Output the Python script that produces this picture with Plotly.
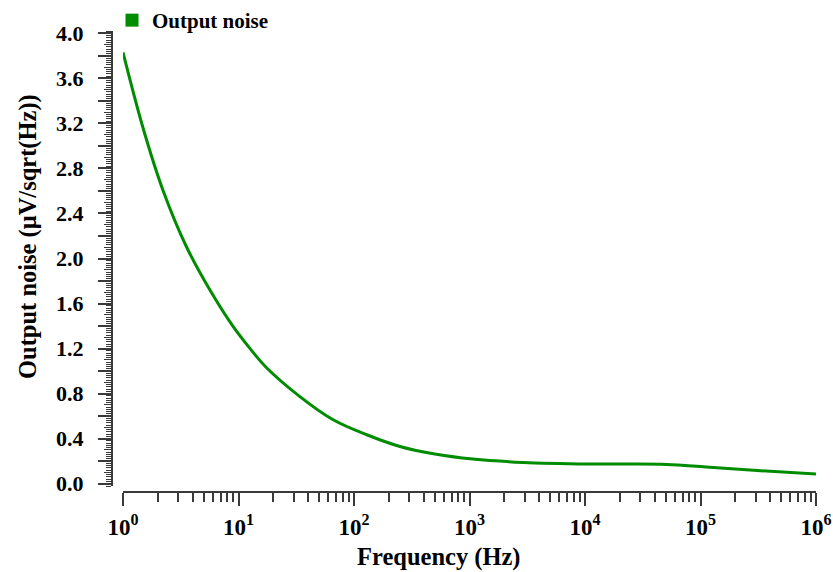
import plotly.graph_objects as go

# Output noise spectral density vs frequency
freq_hz = [1, 1.5, 2.23, 3.56, 5.66, 9.0, 12.6, 17.5, 34, 66, 129, 250, 487,
           1070, 2920, 11000, 51000, 112000, 309000, 1000000]
noise_uv = [3.83, 3.15, 2.60, 2.10, 1.72, 1.395, 1.20, 1.03, 0.774, 0.568, 0.435,
            0.331, 0.266, 0.219, 0.189, 0.175, 0.172, 0.148, 0.118, 0.086]

x_tick_vals = [1, 10, 100, 1000, 10000, 100000, 1000000]
x_tick_text = ["10<sup>%d</sup>" % i for i in range(7)]
y_major_vals = [round(0.2 * i, 1) for i in range(21)]
y_major_text = [("%.1f" % v) if i % 2 == 0 else "" for i, v in enumerate(y_major_vals)]
y_mid_vals = [round(0.1 + 0.2 * i, 2) for i in range(20)]

GREEN = "#008c00"
AXIS = "#3a3a3a"
FONT = "Liberation Serif, Times New Roman, serif"

# paper spans x 112..833 and y 0..492 px
X_DOMAIN = [11 / 721, 704 / 721]
Y_DOMAIN = [6 / 492, 461 / 492]

fig = go.Figure()
fig.add_trace(go.Scatter(
    x=freq_hz, y=noise_uv, mode="lines",
    line=dict(color=GREEN, width=3, shape="spline", smoothing=1.0),
    showlegend=False,
))
# legend entry drawn as a filled square
fig.add_trace(go.Scatter(
    x=[None], y=[None], mode="markers", name="Output noise",
    marker=dict(symbol="square", size=13, color=GREEN),
))
# medium ticks at the 0.1 positions
fig.add_trace(go.Scatter(x=[None], y=[None], yaxis="y2", showlegend=False))

fig.update_layout(
    width=833, height=572,
    margin=dict(l=112, r=0, t=0, b=80, autoexpand=False),
    paper_bgcolor="white", plot_bgcolor="white",
    font=dict(family=FONT, color="black", weight="bold"),
    showlegend=True,
    legend=dict(x=0.0, y=1.0, xanchor="left", yanchor="top",
                font=dict(size=21, family=FONT, weight="bold"),
                bgcolor="rgba(0,0,0,0)", borderwidth=0,
                tracegroupgap=0, itemwidth=30),
    xaxis=dict(
        type="log", range=[0, 6], domain=X_DOMAIN,
        anchor="free", position=0, automargin=False,
        showgrid=False, zeroline=False,
        showline=True, linecolor=AXIS, linewidth=2,
        ticks="outside", ticklen=13, tickwidth=1.5, tickcolor=AXIS,
        tickvals=x_tick_vals, ticktext=x_tick_text,
        tickfont=dict(size=23, family=FONT, weight="bold"),
        ticklabelstandoff=1,
        minor=dict(ticks="outside", ticklen=9, tickwidth=1.5, tickcolor=AXIS,
                   dtick="D1", showgrid=False),
    ),
    yaxis=dict(
        range=[-0.02, 4.02], domain=Y_DOMAIN,
        anchor="free", position=0, automargin=False,
        showgrid=False, zeroline=False,
        showline=True, linecolor=AXIS, linewidth=2,
        ticks="outside", ticklen=13, tickwidth=1.5, tickcolor=AXIS,
        tickvals=y_major_vals, ticktext=y_major_text,
        tickfont=dict(size=22, family=FONT, weight="bold"),
        ticklabelstandoff=10,
        minor=dict(ticks="outside", ticklen=5, tickwidth=1, tickcolor=AXIS,
                   dtick=0.02, tick0=0, showgrid=False),
    ),
    yaxis2=dict(
        overlaying="y", range=[-0.02, 4.02], domain=Y_DOMAIN,
        anchor="free", position=0, side="left", automargin=False,
        showgrid=False, zeroline=False, showline=False,
        ticks="outside", ticklen=8, tickwidth=1.2, tickcolor=AXIS,
        tickvals=y_mid_vals, showticklabels=False,
    ),
    annotations=[
        dict(text="Frequency (Hz)", xref="paper", yref="paper",
             x=(439 - 112) / 721, y=(492 - 557) / 492,
             xanchor="center", yanchor="middle", showarrow=False,
             font=dict(size=24.5, family=FONT, weight="bold")),
        dict(text="Output noise (μV/sqrt(Hz))", xref="paper", yref="paper",
             x=(28 - 112) / 721, y=(492 - 237) / 492, textangle=-90,
             xanchor="center", yanchor="middle", showarrow=False,
             font=dict(size=24.5, family=FONT, weight="bold")),
    ],
)

fig.write_html("out.html")
